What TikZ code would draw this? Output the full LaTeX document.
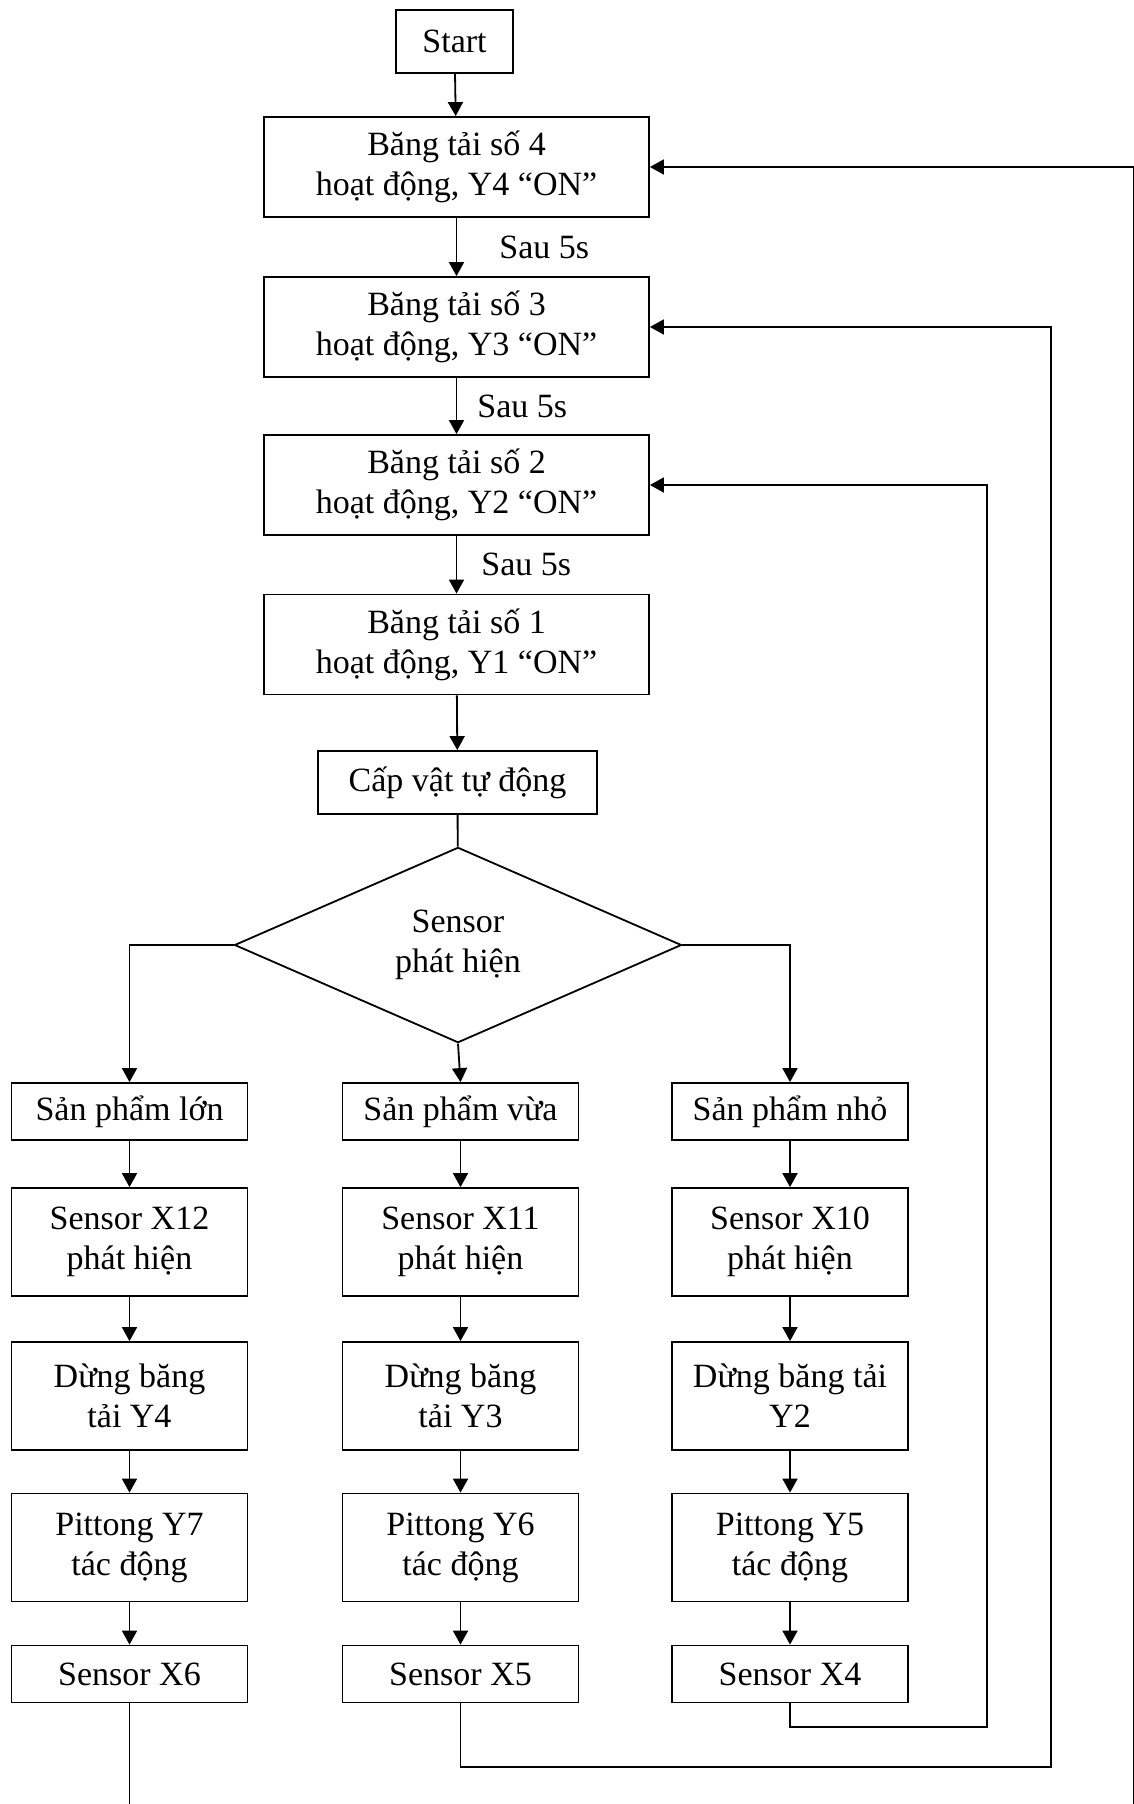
\documentclass[tikz,border=0pt]{standalone}
\usepackage{fontspec}
\setmainfont{Liberation Serif}
\usetikzlibrary{shapes.geometric,arrows.meta,positioning,calc}

\begin{document}
\begin{tikzpicture}[x=0.5pt, y=-0.5pt,
    txt/.style={font=\fontsize{17}{20}\selectfont},
    box/.style={txt, draw, line width=0.9pt, align=center, inner sep=0pt},
    belt/.style={box, minimum width=192.5pt, minimum height=50pt},
    small/.style={box, minimum width=118pt, minimum height=28.5pt},
    tall/.style={box, minimum width=118pt, minimum height=54pt},
    decision/.style={txt, draw, diamond, line width=0.9pt, align=center,
        inner sep=0pt, minimum width=223.5pt, minimum height=92.5pt},
    arr/.style={-{Triangle[length=7pt,width=7.5pt]}, line width=0.9pt},
    lbl/.style={txt, inner sep=0pt}]
    \clip (0,0) rectangle (1134,1804);

    % start and the four conveyors
    \node[box, minimum width=58.5pt, minimum height=31.5pt] (start) at (454.5,41.5) {Start};
    \node[belt] (b4) at (456.5,167) {Băng tải số 4\\hoạt động, Y4 “ON”};
    \node[belt] (b3) at (456.5,327) {Băng tải số 3\\hoạt động, Y3 “ON”};
    \node[belt] (b2) at (456.5,485) {Băng tải số 2\\hoạt động, Y2 “ON”};
    \node[belt] (b1) at (456.5,644.5) {Băng tải số 1\\hoạt động, Y1 “ON”};
    \node[box, minimum width=139.5pt, minimum height=31.5pt] (feed) at (457.5,782.5) {Cấp vật tự động};
    \node[decision] (detect) at (458,945) {Sensor\\phát hiện};

    \draw[arr] (start) -- (b4);
    \draw[arr] (b4) -- node[lbl, right=21pt] {Sau 5s} (b3);
    \draw[arr] (b3) -- node[lbl, right=10pt] {Sau 5s} (b2);
    \draw[arr] (b2) -- node[lbl, right=12pt] {Sau 5s} (b1);
    \draw[arr] (b1) -- (feed);
    \draw[line width=0.9pt] (feed) -- (detect);

    % large products
    \node[small] (big) at (129.5,1111.5) {Sản phẩm lớn};
    \node[tall] (sx12) at (129.5,1242) {Sensor X12\\phát hiện};
    \node[tall] (stop4) at (129.5,1396) {Dừng băng\\tải Y4};
    \node[tall] (pit7) at (129.5,1547.5) {Pittong Y7\\tác động};
    \node[small] (x6) at (129.5,1674) {Sensor X6};

    % medium products
    \node[small] (mid) at (460.5,1111.5) {Sản phẩm vừa};
    \node[tall] (sx11) at (460.5,1242) {Sensor X11\\phát hiện};
    \node[tall] (stop3) at (460.5,1396) {Dừng băng\\tải Y3};
    \node[tall] (pit6) at (460.5,1547.5) {Pittong Y6\\tác động};
    \node[small] (x5) at (460.5,1674) {Sensor X5};

    % small products
    \node[small] (tiny) at (790,1111.5) {Sản phẩm nhỏ};
    \node[tall] (sx10) at (790,1242) {Sensor X10\\phát hiện};
    \node[tall] (stop2) at (790,1396) {Dừng băng tải\\Y2};
    \node[tall] (pit5) at (790,1547.5) {Pittong Y5\\tác động};
    \node[small] (x4) at (790,1674) {Sensor X4};

    \draw[arr] (detect.west) -| (big.north);
    \draw[arr] (detect.south) -- (mid.north);
    \draw[arr] (detect.east) -| (tiny.north);

    \foreach \a/\b in {big/sx12, sx12/stop4, stop4/pit7, pit7/x6,
                       mid/sx11, sx11/stop3, stop3/pit6, pit6/x5,
                       tiny/sx10, sx10/stop2, stop2/pit5, pit5/x4}
        \draw[arr] (\a) -- (\b);

    % return lines to the conveyors
    \coordinate (turn2) at (987,1727);
    \coordinate (turn3) at (1051,1767);
    \coordinate (turn4) at (1134,1850);
    \draw[arr] (x4.south) |- (turn2) |- (b2.east);
    \draw[arr] (x5.south) |- (turn3) |- (b3.east);
    \draw[arr] (x6.south) |- (turn4) |- (b4.east);
\end{tikzpicture}
\end{document}
